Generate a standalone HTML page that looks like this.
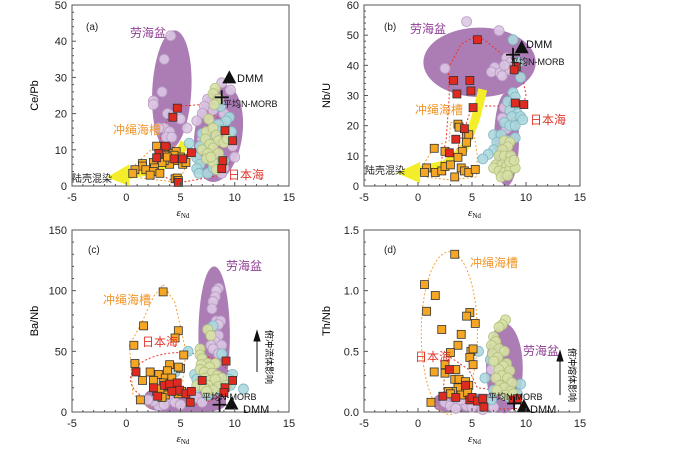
<!DOCTYPE html>
<html><head><meta charset="utf-8"><style>
body{margin:0;background:#fff}
svg{display:block;font-family:"Liberation Sans","Noto Sans CJK SC",sans-serif}
</style></head><body>
<svg id="chart" width="700" height="451" viewBox="0 0 700 451" xmlns="http://www.w3.org/2000/svg"></svg>
<script>
// ---------- data: panel a (Ce/Pb) ----------
const aLau=[[4.1,41.5],[3.5,35],[3.3,26],[2.5,23.5],[2.5,22.5],[3.8,20],[4.3,19.5],[4.8,19],[5,18.5],[3.5,16],[4,15],[3.7,13.5],[4.2,13.5],[3,16],[5.6,16],[8.8,28.5],[9.6,26.5],[7.5,24],[7.2,22],[8,21],[7,20],[9,20],[8,17],[6.5,18],[9.5,15],[7,13],[9,12],[9.8,11],[8.8,3.5],[9,5],[10,8]];
const aTeal=[[5.8,11.8],[6.5,7.8],[6.8,6],[6.5,4.8],[6.7,3.5],[7.5,3.5],[7.5,8],[8.5,6],[9,7],[9.5,19],[9.2,18],[8.5,17],[7,14.5],[7.2,12],[8.7,22],[8.9,15.5],[9.7,15],[6.8,11],[8,5],[7.8,13]];
const aGreen=[[8.2,27],[8,25.5],[8.5,24],[8.1,22.5],[7.6,18.5],[7.4,15],[8,16],[8.3,14],[7.3,13],[8.5,12.5],[7.7,11.5],[8,10.5],[7,10],[7.5,9],[8.5,9],[7.4,7.5],[8,6.5],[8.8,6],[9,12],[9.3,13],[7.8,8],[8.3,4.5]];
const aOrange=[[2.8,11],[3.7,10.5],[3.5,9.5],[3.2,9],[3.7,8.5],[4.3,9],[4.6,9.5],[5,8],[5.3,7.5],[4.6,7],[4,6],[3.5,7],[3.3,6.5],[2.5,6.5],[1.5,6.2],[1.5,5.5],[2.6,5],[0.8,4.5],[1.8,4.5],[2.5,4],[3.1,3.5],[0.6,3.5],[2.2,3],[4.5,2],[4.7,2.2],[4.8,1.5],[5.2,6],[5.5,6.5],[4.4,8.5],[3.8,8]];
const aRed=[[4.7,21.5],[4.3,19],[3.6,11],[3,9],[2.8,7.8],[4.4,7.5],[5.2,7.5],[6,9.2],[9.1,15.3],[9.8,12.5],[8.9,7],[8.8,4.8],[4.8,1]];
const aDMM=[9.5,30], aMORB=[8.8,24.5];
// ---------- panel b (Nb/U) ----------
const bLau=[[4.5,54.5],[7.5,51.5],[2.5,39],[8.2,42.5],[8.6,41],[8.5,38.5],[7.1,39.3],[6.8,37.8],[7.6,37.5],[8,40],[7.8,36.5],[8,26],[8.5,24],[7.8,22.5],[8.2,19]];
const bTeal=[[8.8,48.5],[9.3,41],[9.5,36],[8.8,31],[9,29.5],[8.3,28],[8.9,27],[8.5,25],[9.2,24],[8.7,23],[9.5,23],[8,21],[8.5,20],[9,20],[7,17],[7.7,17],[7.3,14.5],[7,12],[6.5,10.5],[6,9],[8.3,15],[9,16],[9.7,22]];
const bGreen=[[8,15],[8.5,14.5],[8.3,13],[7.8,12],[7.5,10],[8,10],[8.6,10],[7.2,7],[7.8,7],[8.2,6.5],[8.8,6],[7,6],[7.5,5],[8,4.5],[8.5,5.5],[9,6],[7.7,3],[8.3,3.5],[8.5,8],[8.9,8.5]];
const bOrange=[[3.7,20.5],[3.8,19.5],[4.5,16.5],[4.7,17],[4.5,14.5],[1.5,12.5],[2.5,11.5],[4.1,11.5],[3.7,9.5],[0.8,6],[0.6,4.5],[1.6,4.5],[2.2,5],[2.5,6.5],[3,7],[4,6],[4.3,5],[4.7,4.5],[5.3,5.5],[3.4,3]];
const bRed=[[5.5,48.5],[3.3,35],[4.8,35],[3.6,30.5],[4.9,31.5],[5.1,26],[4.3,19],[3.5,15.5],[2.9,11],[9,27.5],[9.8,27],[9.1,39.5],[8.9,38.5]];
const bDMM=[9.6,46], bMORB=[8.8,43.5];
// ---------- panel c (Ba/Nb) ----------
const cLau=[[8.5,102],[8.3,100],[8.2,95],[8,91],[7.9,85],[8.3,75],[8.7,75],[8.5,72],[8,68],[7.8,64],[8.5,63],[8.2,58],[8.8,55],[7.8,55],[8,52],[8.5,48],[8.3,40],[7.9,35],[3,5],[2.5,9],[4,10],[4.5,8],[5,6],[6,10],[6.5,12],[7,8],[3.5,6],[2,10]];
const cTeal=[[5.7,50],[8,71],[6.3,31],[6.5,27],[7.1,26],[7,22],[6.5,20],[8.8,48],[9.8,31],[10.8,19],[9.5,27],[9.6,22],[7.5,14],[8.5,18],[4.5,33]];
const cGreen=[[7.5,68],[7.8,63],[6.8,52],[6.8,47],[7,44],[7.5,40],[8.2,40],[6.9,39],[7.7,37],[6.8,35],[7.2,33],[7.9,32],[8.4,30],[8.8,28],[7.3,28],[7.7,26],[8.2,27],[6.8,24],[7.5,22],[8.5,21],[6.5,22],[7.2,20],[9.2,22],[8,18],[7.4,17]];
const cOrange=[[3.4,99],[1.6,71],[4.8,67],[4.5,61],[0.7,55],[5.3,47],[0.8,40],[4,39],[5,36],[4.8,37],[3,31],[3.8,34],[2.2,33],[3.6,28],[4.2,28],[1.5,26],[2.5,26],[3.4,24],[3.7,22],[4.5,22],[4.3,21],[2.8,17],[3.2,16],[3.5,15],[3.6,14],[3.3,12],[4.8,15],[5.1,17],[1.3,10],[3.1,19]];
const cRed=[[0.9,33],[2.5,20],[3.5,22],[4,23],[4.7,24],[4.9,18],[5.5,15],[6,17],[5.9,8],[7,26],[9.8,26],[9.2,42],[9.1,20],[9,16],[2.9,13],[4.2,17]];
const cDMM=[9.7,7], cMORB=[8.6,6];
// ---------- panel d (Th/Nb) ----------
const dLau=[[2.5,0.08],[3,0.05],[3.8,0.07],[4.5,0.05],[5.5,0.07],[6.5,0.06],[7,0.04],[6,0.02],[3.5,0.03],[4,0.1],[5,0.04],[7.5,0.3],[7.2,0.38],[6.8,0.35]];
const dTeal=[[5.6,0.5],[6.7,0.43],[6.2,0.28],[9.5,0.23],[7,0.18],[8.5,0.12],[9.2,0.15],[6.8,0.1]];
const dGreen=[[8.1,0.76],[7.8,0.72],[7.5,0.7],[7,0.62],[7.2,0.58],[6.8,0.55],[7.5,0.52],[8,0.5],[6.9,0.48],[7.4,0.45],[7,0.42],[8.2,0.4],[7.9,0.38],[7.5,0.35],[8.5,0.34],[7.8,0.3],[8.3,0.28],[7.2,0.28],[8.7,0.24],[7.6,0.22],[8,0.2],[8.6,0.17],[7.3,0.18],[8.1,0.14],[8.8,0.15]];
const dOrange=[[3.4,1.3],[0.6,1.05],[1.6,0.96],[0.8,0.83],[4.8,0.82],[4.5,0.79],[5.3,0.73],[2.2,0.68],[4,0.64],[3.7,0.55],[3,0.49],[4.9,0.5],[5.1,0.52],[4.8,0.45],[5.1,0.39],[2.5,0.39],[3.5,0.35],[1.5,0.33],[2.5,0.32],[3.4,0.27],[3.8,0.27],[4.4,0.25],[4.6,0.2],[4.7,0.22],[3.7,0.2],[4.4,0.18],[3.2,0.17],[2.8,0.17],[3,0.15],[4,0.14],[1.2,0.08],[4.6,0.16]];
const dRed=[[2.9,0.35],[2.3,0.13],[3.5,0.12],[4.8,0.1],[5,0.12],[5.5,0.09],[6.1,0.04],[6,0.11],[8.8,0.1],[9.2,0.11],[4.4,0.22]];
const dDMM=[9.8,0.05], dMORB=[8.9,0.07];
const xTicks=[-5,0,5,10,15];

const NS='http://www.w3.org/2000/svg';
const svg=document.getElementById('chart');
function el(tag,attrs,parent,txt){const e=document.createElementNS(NS,tag);for(const k in attrs)e.setAttribute(k,attrs[k]);if(txt!==undefined)e.textContent=txt;(parent||svg).appendChild(e);return e;}

const panels=[
 {id:'a',L:72,R:289,T:5,B:186,ymax:50,ystep:10,minor:2,ytitle:'Ce/Pb',fmt:v=>v,lau:aLau,teal:aTeal,green:aGreen,orange:aOrange,red:aRed,dmm:aDMM,morb:aMORB},
 {id:'b',L:364,R:580,T:5,B:186,ymax:60,ystep:10,minor:2,ytitle:'Nb/U',fmt:v=>v,lau:bLau,teal:bTeal,green:bGreen,orange:bOrange,red:bRed,dmm:bDMM,morb:bMORB},
 {id:'c',L:72,R:289,T:230,B:412,ymax:150,ystep:50,minor:10,ytitle:'Ba/Nb',fmt:v=>v,lau:cLau,teal:cTeal,green:cGreen,orange:cOrange,red:cRed,dmm:cDMM,morb:cMORB},
 {id:'d',L:364,R:580,T:230,B:412,ymax:1.5,ystep:0.5,minor:0.1,ytitle:'Th/Nb',fmt:v=>v.toFixed(1),lau:dLau,teal:dTeal,green:dGreen,orange:dOrange,red:dRed,dmm:dDMM,morb:dMORB}
];
const sx=(p,v)=>p.L+(v+5)/20*(p.R-p.L);
const sy=(p,v)=>p.B-v/p.ymax*(p.B-p.T);
function ell(p,g,cx,cy,rx,ry,rot,attrs){
 return el('ellipse',Object.assign({cx:sx(p,cx),cy:sy(p,cy),rx:rx/20*(p.R-p.L),ry:ry/p.ymax*(p.B-p.T),transform:`rotate(${rot} ${sx(p,cx)} ${sy(p,cy)})`},attrs),g);}
function poly(p,g,pts,attrs){return el('path',Object.assign({d:'M'+pts.map(q=>sx(p,q[0])+' '+sy(p,q[1])).join(' L')+' Z',fill:'none'},attrs),g);}
function curve(p,g,pts,attrs){
 let d='M'+sx(p,pts[0][0])+' '+sy(p,pts[0][1]);
 for(let i=1;i<pts.length;i++)d+=' L'+sx(p,pts[i][0])+' '+sy(p,pts[i][1]);
 return el('path',Object.assign({d,fill:'none'},attrs),g);}
function txt(g,x,y,s,attrs){return el('text',Object.assign({x,y,'font-size':11},attrs||{}),g,s);}

const LAUFILL='#ab7db4';
panels.forEach(p=>{
 const g=el('g',{});
 
 
 el('rect',{x:p.L,y:p.T,width:p.R-p.L,height:p.B-p.T,fill:'#fff',stroke:'#555','stroke-width':1},g);
 const sh=el('g',{},g);
 
 
 const ol={stroke:'#e8352c','stroke-width':1,'stroke-dasharray':'2,2',fill:'none'};
 const oo={stroke:'#f2a23a','stroke-width':1,'stroke-dasharray':'2,2',fill:'none'};
 const Y='#f4ee2a';
 if(p.id==='a'){
  ell(p,sh,4.2,26.5,1.8,16.5,3,{fill:LAUFILL});
  ell(p,sh,8.5,14.5,2.2,13.5,8,{fill:LAUFILL});
  poly(p,sh,[[2.8,11.5],[0.5,5],[0.5,2.5],[2,2],[4.8,1],[5.6,6],[5.5,10],[4,11.5]],oo);
  poly(p,sh,[[4.7,22],[7,22.5],[9.5,16],[10,12],[9.5,6],[8.8,3],[6,1.5],[4.8,0.8],[2.8,3.5],[2.5,7.5],[3.4,15],[4,20]],ol);
  curve(p,sh,[[5.4,12],[4.6,7.5],[2.5,4.5],[0,3]],{stroke:Y,'stroke-width':9,'stroke-linecap':'butt'});
  poly(p,sh,[[0.3,6],[-1.8,2.4],[0.3,0]],{fill:Y});
 }
 if(p.id==='b'){
  ell(p,sh,5.7,41,5.2,11.5,0,{fill:LAUFILL});
  ell(p,sh,8.2,15.5,1.15,15.5,0,{fill:LAUFILL});
  poly(p,sh,[[2.8,39],[4,47],[5.5,50],[6.3,48],[8,43],[9.5,40],[10,30],[9.7,26.5],[5,26.5],[4.5,21],[3.6,12],[2,6],[2.6,15],[2.9,30]],ol);
  poly(p,sh,[[3,21],[4,21.5],[5.2,17],[5.5,10],[5.4,3],[3,2],[0.7,3],[0.5,7],[1.5,13],[2.9,15]],oo);
  curve(p,sh,[[6,32],[5.3,22],[4.2,12],[2.5,7],[0,5]],{stroke:Y,'stroke-width':9});
  poly(p,sh,[[0.2,8],[-2,4.3],[0.2,1]],{fill:Y});
 }
 if(p.id==='c'){
  ell(p,sh,8.1,63,1.45,57,0,{fill:LAUFILL});
  el('rect',{x:sx(p,1.7),y:sy(p,20),width:sx(p,9.2)-sx(p,1.7),height:sy(p,0.5)-sy(p,20),rx:18,ry:8,fill:LAUFILL},sh);
  poly(p,sh,[[3.4,105],[4.5,90],[5,70],[5.5,50],[5.2,25],[4,8],[2,4],[0.6,15],[0.3,55],[1.5,75],[2.5,95]],oo);
  ell(p,sh,5,27,4.6,22,0,ol);
 }
 if(p.id==='d'){
  el('rect',{x:sx(p,1.5),y:sy(p,0.15),width:sx(p,8.5)-sx(p,1.5),height:sy(p,0.005)-sy(p,0.15),rx:10,ry:5,fill:LAUFILL},sh);
  ell(p,sh,8,0.36,1.7,0.37,0,{fill:LAUFILL});
  ell(p,sh,2.9,0.65,2.6,0.67,0,oo);
  poly(p,sh,[[2.5,0.4],[3,0.45],[4.7,0.35],[5.5,0.2],[9.5,0.15],[9.5,0.03],[5,0.02],[2.3,0.08]],ol);
 }
 const pts=el('g',{},g);
 
 
 const circ=(arr,fill,stroke,name)=>arr.forEach(q=>{const c=el('circle',{cx:sx(p,q[0]),cy:sy(p,q[1]),r:5,fill,stroke,'stroke-width':0.8,'fill-opacity':0.9},pts);
  
  });
 const sq=(arr,fill,name)=>arr.forEach(q=>{const r=el('rect',{x:sx(p,q[0])-4,y:sy(p,q[1])-4,width:8,height:8,fill,stroke:'#333','stroke-width':0.8},pts);
  
  });
 circ(p.lau,'#dcc7e3','#b99cc3','lau-basin-point');
 circ(p.teal,'#acd8de','#82b8c2','teal-point');
 circ(p.green,'#d7e1a6','#b4c07e','green-point');
 sq(p.orange,'#f5a623','okinawa-point');
 sq(p.red,'#e02a20','japan-sea-point');
 const dx=sx(p,p.dmm[0]),dy=sy(p,p.dmm[1]);
 const tri=el('polygon',{points:`${dx-7},${dy+6} ${dx+7},${dy+6} ${dx},${dy-7}`,fill:'#111'},g);
 
 
 const mx=sx(p,p.morb[0]),my=sy(p,p.morb[1]);
 el('path',{d:`M${mx-7} ${my} H${mx+7} M${mx} ${my-7} V${my+7}`,stroke:'#111','stroke-width':1.8},g);
 for(let v=0;v<=p.ymax+1e-9;v+=p.minor){const y=sy(p,v);const major=Math.abs(v/p.ystep-Math.round(v/p.ystep))<1e-6;
  el('line',{x1:p.L,x2:p.L+(major?4:2),y1:y,y2:y,stroke:'#555'},g);
  if(major){const t=txt(g,p.L-5,y+4,String(p.fmt(Math.round(v/p.ystep)*p.ystep)),{'text-anchor':'end','font-size':11,fill:'#222'});
   
   }}
 for(let v=-5;v<=15;v+=1){const x=sx(p,v);const major=v%5===0;
  el('line',{x1:x,x2:x,y1:p.B,y2:p.B-(major?4:2),stroke:'#555'},g);}
 xTicks.forEach(v=>{const t=txt(g,sx(p,v),p.B+15,String(v),{'text-anchor':'middle',fill:'#222'});
  
  });
 const yt=txt(g,0,0,p.ytitle,{transform:`translate(${p.L-34},${(p.T+p.B)/2}) rotate(-90)`,'text-anchor':'middle','font-size':11});
 
 
 const xt=el('text',{x:(p.L+p.R)/2-4,y:p.B+30,'font-size':11,'font-family':'Liberation Serif,serif','font-style':'italic'},g,'ε');
 el('tspan',{'font-size':7,dy:2,'font-style':'normal'},xt,'Nd');
 
 
});
const ann=el('g',{});


const P='#8e3e93',O='#f0962a',R='#e0352c';
[['(a)',86,30,'#222',10],['(b)',384,30,'#222',10],['(c)',88,253,'#222',10],['(d)',384,253,'#222',10],
 ['劳海盆',130,37,P,12],['劳海盆',410,33,P,12],['劳海盆',226,270,P,12],['劳海盆',523,355,P,12],
 ['冲绳海槽',113,134,O,12],['冲绳海槽',415,114,O,12],['冲绳海槽',103,304,O,12],['冲绳海槽',470,267,O,12],
 ['日本海',228,179,R,12],['日本海',530,124,R,12],['日本海',142,346,R,12],['日本海',415,361,R,12],
 ['陆壳混染',72,182,'#222',10],['陆壳混染',365,174,'#222',10],
 ['DMM',237,82,'#111',11],['DMM',526,48,'#111',11],['DMM',243,413,'#111',11],['DMM',530,413,'#111',11],
 ['平均N-MORB',223,107,'#111',9],['平均N-MORB',510,65,'#111',9],['平均N-MORB',202,400,'#111',9],['平均N-MORB',488,400,'#111',9]
].forEach(a=>{txt(ann,a[1],a[2],a[0],{fill:a[3],'font-size':a[4]});});
txt(ann,0,0,'俯冲流体影响',{transform:'translate(266,330) rotate(90)','font-size':9});
txt(ann,0,0,'俯冲熔体影响',{transform:'translate(569,348) rotate(90)','font-size':9});
el('path',{d:'M257 372 V336 M254 341 L257 331 L260 341 Z',stroke:'#111',fill:'#111','stroke-width':1},ann);
el('path',{d:'M560 395 V356 M557 361 L560 351 L563 361 Z',stroke:'#111',fill:'#111','stroke-width':1},ann);
</script>
</body></html>
